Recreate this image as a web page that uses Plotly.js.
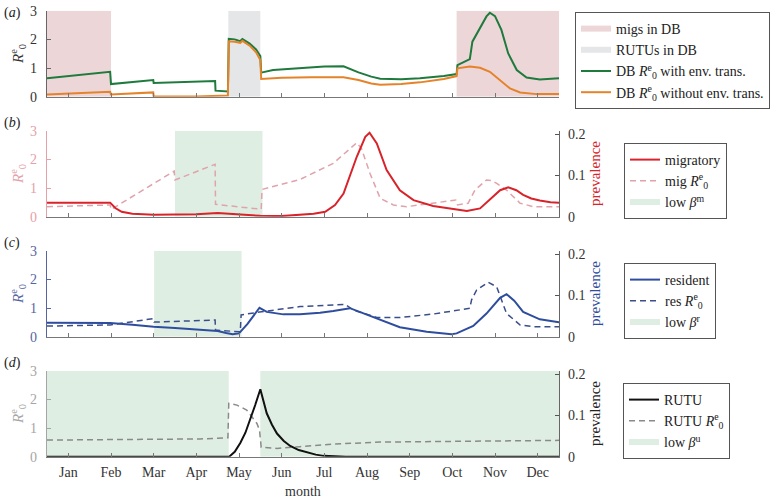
<!DOCTYPE html>
<html>
<head>
<meta charset="utf-8">
<script src="https://cdn.plot.ly/plotly-3.0.1.min.js"></script>
<style>html,body{margin:0;padding:0;background:#fff;}#chart{width:773px;height:499px;}</style>
</head>
<body>
<div id="chart"></div>
<script>
// ---------- tick labels ----------
const monthNames = ['Jan','Feb','Mar','Apr','May','Jun','Jul','Aug','Sep','Oct','Nov','Dec'];
const monthTicks = [0.5,1.5,2.5,3.5,4.5,5.5,6.5,7.5,8.5,9.5,10.5,11.5];

// ---------- shaded periods (month units) ----------
const migsInDB  = [[0,1.5],[9.6,12]];
const rutusInDB = [[4.25,5.0]];
const lowBetaM  = [[3.0,5.05]];
const lowBetaR  = [[2.51,4.56]];
const lowBetaU  = [[0,4.26],[5.0,12]];

// ---------- panel (a): DB R0e ----------
const dbEnvX = [0,1.48,1.50,2.49,2.50,3.94,3.95,4.24,4.26,4.40,4.53,4.58,4.75,4.90,5.00,5.02,5.30,5.90,6.50,6.95,7.30,7.60,7.81,8.30,8.74,9.30,9.60,9.62,9.91,9.97,10.19,10.30,10.38,10.50,10.65,10.81,11.01,11.24,11.55,12];
const dbEnvY = [0.64,0.87,0.44,0.58,0.48,0.55,0.21,0.18,2.02,2.00,1.94,2.01,1.85,1.65,1.42,0.84,0.93,1.00,1.05,1.06,0.85,0.70,0.63,0.61,0.64,0.72,0.79,1.10,1.31,1.92,2.50,2.80,2.93,2.81,2.33,1.51,0.93,0.67,0.60,0.64];
const dbNoEnvX = [0,1.48,1.50,2.49,2.50,3.50,4.24,4.26,4.40,4.53,4.58,4.75,4.90,5.00,5.02,5.50,6.20,6.95,7.30,7.60,7.81,8.30,8.74,9.30,9.60,9.62,9.91,10.15,10.38,10.62,10.85,11.09,11.47,12];
const dbNoEnvY = [0.08,0.17,0.08,0.15,0.01,0.01,0.04,1.93,1.92,1.88,1.95,1.78,1.55,1.28,0.62,0.66,0.68,0.68,0.58,0.46,0.42,0.44,0.50,0.62,0.72,0.99,1.05,1.01,0.87,0.58,0.29,0.15,0.09,0.09];

// ---------- panel (b): migratory ----------
const migPrevX = [0,1.48,1.60,1.75,2.00,2.50,3.00,3.50,4.00,4.50,5.00,5.50,5.93,6.25,6.52,6.75,6.95,7.10,7.26,7.46,7.56,7.73,7.96,8.27,8.59,9.05,9.52,9.84,10.15,10.42,10.62,10.81,11.00,11.16,11.35,11.55,11.80,12];
const migPrevY = [0.034,0.034,0.021,0.012,0.007,0.005,0.0055,0.006,0.009,0.0055,0.002,0.0015,0.004,0.007,0.012,0.028,0.056,0.097,0.145,0.193,0.203,0.177,0.113,0.064,0.040,0.026,0.018,0.014,0.020,0.044,0.064,0.071,0.064,0.053,0.044,0.039,0.035,0.034];
const migR0X = [0,1.48,1.50,2.98,3.00,3.94,3.95,5.02,5.04,5.93,6.71,7.26,7.37,7.57,7.81,8.12,8.43,9.05,9.58,9.62,9.87,10.03,10.30,10.42,10.54,10.77,11.09,11.40,12];
const migR0Y = [0.35,0.41,0.25,1.59,1.28,1.83,0.43,0.26,0.95,1.30,1.86,2.58,2.38,1.51,0.64,0.41,0.35,0.47,0.58,0.41,0.47,0.93,1.28,1.26,1.16,0.93,0.47,0.35,0.35];

// ---------- panel (c): resident ----------
const resPrevX = [0,1.48,2.00,2.50,3.00,3.50,4.00,4.20,4.35,4.50,4.70,4.98,5.15,5.54,5.93,6.40,6.71,7.10,7.30,7.73,8.04,8.27,8.90,9.48,9.60,9.99,10.30,10.62,10.77,10.95,11.16,11.55,12];
const resPrevY = [0.034,0.033,0.029,0.024,0.021,0.018,0.014,0.009,0.006,0.008,0.031,0.070,0.060,0.054,0.054,0.058,0.062,0.069,0.061,0.044,0.031,0.023,0.012,0.006,0.008,0.026,0.056,0.094,0.103,0.087,0.060,0.042,0.035];
const resR0X = [0,1.48,2.49,2.51,3.94,3.95,4.53,4.55,4.98,5.93,6.99,7.18,7.73,8.27,9.05,9.91,9.95,10.07,10.34,10.54,10.77,11.09,11.40,12];
const resR0Y = [0.37,0.41,0.63,0.51,0.58,0.23,0.17,0.76,0.86,1.05,1.13,0.93,0.67,0.67,0.79,0.99,1.28,1.63,1.90,1.74,0.81,0.41,0.35,0.35];

// ---------- panel (d): RUTU ----------
const rutuPrevX = [0,4.27,4.40,4.53,4.65,4.76,4.88,5.00,5.08,5.15,5.27,5.39,5.55,5.70,5.90,6.09,6.30,6.48,7.00,12];
const rutuPrevY = [0,0,0.012,0.033,0.058,0.089,0.125,0.163,0.130,0.105,0.078,0.056,0.038,0.026,0.016,0.010,0.005,0.002,0,0];
const rutuR0X = [0,3.59,4.24,4.26,4.45,4.68,4.92,4.98,5.02,5.39,5.93,6.71,7.81,9.50,12];
const rutuR0Y = [0.58,0.62,0.66,1.86,1.80,1.63,1.16,0.93,0.33,0.29,0.35,0.44,0.51,0.53,0.57];

// ---------- helpers ----------
const FONT = '"Liberation Serif", "DejaVu Serif", serif';
function shade(intervals, ymax, color, name, xa, ya, legend, rank) {
  const xs = [], ys = [];
  intervals.forEach(([a, b]) => { xs.push(a, b, b, a, a, null); ys.push(0, 0, ymax, ymax, 0, null); });
  return {x: xs, y: ys, xaxis: xa, yaxis: ya, type: 'scatter', mode: 'none', fill: 'toself',
          fillcolor: color, name: name, legend: legend, legendrank: rank, hoverinfo: 'skip'};
}
function line(x, y, color, width, dash, name, xa, ya, legend, rank) {
  return {x: x, y: y, xaxis: xa, yaxis: ya, type: 'scatter', mode: 'lines',
          line: {color: color, width: width, dash: dash}, name: name, legend: legend, legendrank: rank};
}
const R0 = '<i>R</i><sup>e</sup><sub>0</sub>';

const PINK = 'rgb(237,214,215)', GREY = 'rgb(229,230,232)', GREEN = 'rgb(223,238,227)';
const traces = [
  shade(migsInDB, 3, PINK, 'migs in DB', 'x', 'y', 'legend', 1),
  shade(rutusInDB, 3, GREY, 'RUTUs in DB', 'x', 'y', 'legend', 2),
  line(dbEnvX, dbEnvY, '#1f7a3d', 2, 'solid', 'DB ' + R0 + ' with env. trans.', 'x', 'y', 'legend', 3),
  line(dbNoEnvX, dbNoEnvY, '#e5832a', 2, 'solid', 'DB ' + R0 + ' without env. trans.', 'x', 'y', 'legend', 4),

  shade(lowBetaM, 3, GREEN, 'low <i>β</i><sup>m</sup>', 'x2', 'y2', 'legend2', 3),
  line(migR0X, migR0Y, '#e0a3ab', 1.5, '6px,4px', 'mig ' + R0, 'x2', 'y2', 'legend2', 2),
  line(migPrevX, migPrevY, '#d8232a', 2, 'solid', 'migratory', 'x2', 'y5', 'legend2', 1),

  shade(lowBetaR, 3, GREEN, 'low <i>β</i><sup>r</sup>', 'x3', 'y3', 'legend3', 3),
  line(resR0X, resR0Y, '#3a4f8a', 1.5, '6px,4px', 'res ' + R0, 'x3', 'y3', 'legend3', 2),
  line(resPrevX, resPrevY, '#2f4d9e', 2, 'solid', 'resident', 'x3', 'y6', 'legend3', 1),

  shade(lowBetaU, 3, GREEN, 'low <i>β</i><sup>u</sup>', 'x4', 'y4', 'legend4', 3),
  line(rutuR0X, rutuR0Y, '#8a8a8a', 1.5, '6px,4px', 'RUTU ' + R0, 'x4', 'y4', 'legend4', 2),
  line(rutuPrevX, rutuPrevY, '#111111', 2, 'solid', 'RUTU', 'x4', 'y7', 'legend4', 1)
];

const H = 499, L = 47, R = 214, PW = 773 - L - R;
const py = p => 1 - p / H;          // pixel (from top) -> paper y
const px = p => (p - L) / PW;       // pixel (from left) -> paper x
const doms = [[py(96.7), py(10.7)], [py(216.7), py(130.7)], [py(336.7), py(250.7)], [py(456.7), py(370.7)]];

function xax(anchor, labels) {
  return {domain: [0, 1], anchor: anchor, range: [0, 12], tickmode: 'array', tickvals: monthTicks,
          ticktext: monthNames, showticklabels: labels,
          ticks: 'inside', ticklen: 4, tickcolor: '#777', showline: true, linecolor: '#777', linewidth: 1.2,
          showgrid: false, zeroline: false, ticklabelstandoff: 2,
          tickfont: {family: FONT, size: 14, color: '#333'}, fixedrange: true};
}
function yax(dom, color, lineColor) {
  return {domain: dom, anchor: 'x', range: [0, 3], tickvals: [0, 1, 2, 3], ticks: 'inside', ticklen: 4,
          tickcolor: lineColor, showline: true, linecolor: lineColor, linewidth: 1.2, showgrid: false,
          zeroline: false, ticklabelstandoff: 6, tickfont: {family: FONT, size: 14, color: color}, fixedrange: true};
}
function yright(over, anchor) {
  return {overlaying: over, anchor: anchor, side: 'right', range: [0, 0.208], tickmode: 'array',
          tickvals: [0, 0.1, 0.2], ticktext: ['0', '0.1', '0.2'], ticks: 'inside', ticklen: 4, tickcolor: '#555',
          showline: true, linecolor: '#666', linewidth: 1.2, showgrid: false, zeroline: false,
          ticklabelstandoff: 5, tickfont: {family: FONT, size: 14, color: '#333'}, fixedrange: true};
}
function leg(x, ytop) {
  return {x: px(x), y: py(ytop), xanchor: 'left', yanchor: 'top', bgcolor: '#fff', bordercolor: '#555',
          borderwidth: 1, font: {family: FONT, size: 14, color: '#222'}, tracegroupgap: 0};
}

const ya = yax(doms[0], '#333', '#666');
const yb = yax(doms[1], '#e5a0a8', '#e5a0a8'); yb.anchor = 'x2';
const yc = yax(doms[2], '#55659f', '#55659f'); yc.anchor = 'x3';
const yd = yax(doms[3], '#a5a5a5', '#a5a5a5'); yd.anchor = 'x4';

function ann(text, x, y, color, angle, size) {
  return {text: text, xref: 'paper', yref: 'paper', x: px(x), y: py(y), xanchor: 'center', yanchor: 'middle',
          showarrow: false, textangle: angle || 0, font: {family: FONT, size: size || 14, color: color}};
}

const layout = {
  width: 773, height: 499, margin: {l: L, r: R, t: 0, b: 0}, paper_bgcolor: '#fff', plot_bgcolor: 'rgba(0,0,0,0)',
  font: {family: FONT, size: 14, color: '#222'},
  xaxis: xax('y', false), xaxis2: xax('y2', false), xaxis3: xax('y3', false), xaxis4: xax('y4', true),
  yaxis: ya, yaxis2: yb, yaxis3: yc, yaxis4: yd,
  yaxis5: yright('y2', 'x2'), yaxis6: yright('y3', 'x3'), yaxis7: yright('y4', 'x4'),
  legend: leg(575, 12), legend2: leg(624, 143), legend3: leg(624, 263), legend4: leg(623, 383),
  annotations: [
    ann('(<i>a</i>)', 12, 13, '#222'), ann('(<i>b</i>)', 12, 123, '#222'),
    ann('(<i>c</i>)', 12, 243, '#222'), ann('(<i>d</i>)', 12, 363, '#222'),
    ann(R0, 18, 54, '#333', -90, 15), ann(R0, 18, 174, '#e5a0a8', -90, 15),
    ann(R0, 18, 294, '#55659f', -90, 15), ann(R0, 18, 414, '#a5a5a5', -90, 15),
    ann('prevalence', 595, 174, '#d8232a', -90, 15), ann('prevalence', 595, 294, '#2f4d9e', -90, 15),
    ann('prevalence', 595, 414, '#222', -90, 15),
    ann('month', 303, 491, '#333', 0, 14)
  ],
  showlegend: true
};

Plotly.newPlot('chart', traces, layout, {displayModeBar: false, staticPlot: true});
</script>
</body>
</html>
